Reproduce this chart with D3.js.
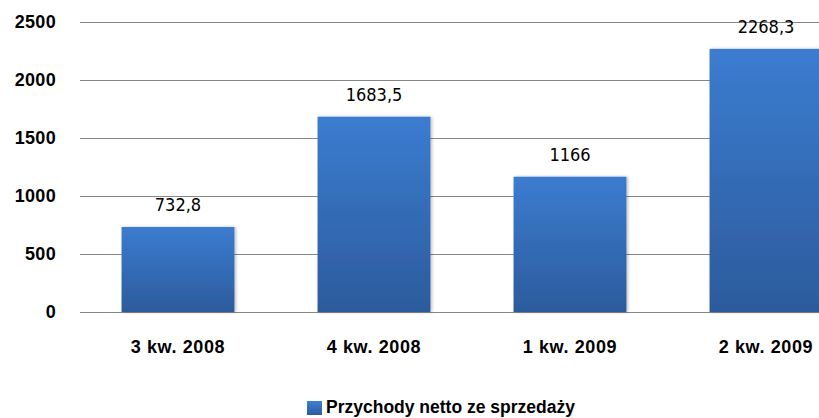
<!DOCTYPE html>
<html>
<head>
<meta charset="utf-8">
<script src="https://cdn.jsdelivr.net/npm/d3@7"></script>
<style>
  html, body { margin: 0; padding: 0; background: #fff; }
  svg { display: block; }
</style>
</head>
<body>
<svg id="chart" width="819" height="418"></svg>
<script>
// Quarterly net sales revenue
const categories = ["3 kw. 2008", "4 kw. 2008", "1 kw. 2009", "2 kw. 2009"];
const values = [732.8, 1683.5, 1166, 2268.3];
const valueLabels = ["732,8", "1683,5", "1166", "2268,3"];
const yTicks = [0, 500, 1000, 1500, 2000, 2500];
const seriesName = "Przychody netto ze sprzedaży";

const svg = d3.select("#chart");
const boldFont = "'Liberation Sans', Arial, sans-serif";
const plainFont = "'DejaVu Sans Condensed', 'Liberation Sans', sans-serif";

const x = d3.scaleBand().domain(categories).range([80, 864]).paddingInner(0.424).paddingOuter(0.212);
const y = d3.scaleLinear().domain([0, 2500]).range([312, 22]);

const defs = svg.append("defs");
const grad = defs.append("linearGradient").attr("id", "barGrad")
  .attr("x1", 0).attr("y1", 0).attr("x2", 0).attr("y2", 1);
grad.append("stop").attr("offset", "0%").attr("stop-color", "#3b7cd0");
grad.append("stop").attr("offset", "100%").attr("stop-color", "#2c5b9c");

const lg = defs.append("linearGradient").attr("id", "legGrad")
  .attr("x1", 0).attr("y1", 0).attr("x2", 0).attr("y2", 1);
lg.append("stop").attr("offset", "0%").attr("stop-color", "#3f80d4");
lg.append("stop").attr("offset", "100%").attr("stop-color", "#2c5b9c");

const shadow = defs.append("filter").attr("id", "shadow")
  .attr("x", "-10%").attr("y", "-10%").attr("width", "130%").attr("height", "130%");
shadow.append("feDropShadow").attr("dx", 1.5).attr("dy", 0).attr("stdDeviation", 1.5)
  .attr("flood-color", "#000").attr("flood-opacity", 0.25);

// Gridlines
svg.append("g").selectAll("line").data(yTicks).join("line")
  .attr("x1", 80).attr("x2", 819)
  .attr("y1", d => Math.round(y(d)) + 0.5).attr("y2", d => Math.round(y(d)) + 0.5)
  .attr("stroke", "#868686").attr("stroke-width", 1);

// Y axis labels
const yAxis = d3.axisLeft(y).tickValues(yTicks).tickSize(0).tickPadding(0).tickFormat(d3.format("d"));
const yg = svg.append("g").attr("transform", "translate(56,0)").call(yAxis);
yg.select(".domain").remove();
yg.selectAll("text").attr("font-family", boldFont).attr("font-weight", "bold")
  .attr("font-size", 18).attr("fill", "#000").attr("letter-spacing", 0.3);

// Bars
svg.append("g").selectAll("rect").data(values).join("rect")
  .attr("x", (d, i) => x(categories[i]))
  .attr("y", d => y(d))
  .attr("width", x.bandwidth())
  .attr("height", d => y(0) - y(d))
  .attr("fill", "url(#barGrad)")
  .attr("filter", "url(#shadow)");

// Value labels
svg.append("g").selectAll("text").data(values).join("text")
  .attr("x", (d, i) => x(categories[i]) + x.bandwidth() / 2)
  .attr("y", d => y(d) - 16)
  .attr("text-anchor", "middle")
  .attr("font-family", plainFont).attr("font-size", 18).attr("fill", "#000")
  .text((d, i) => valueLabels[i]);

// X axis labels
const xAxis = d3.axisBottom(x).tickSize(0).tickPadding(0);
const xg = svg.append("g").attr("transform", "translate(0,353)").call(xAxis);
xg.select(".domain").remove();
xg.selectAll("text").attr("dy", null).attr("y", 0)
  .attr("font-family", boldFont).attr("font-weight", "bold")
  .attr("font-size", 18).attr("fill", "#000").attr("letter-spacing", 0.6);

// Legend
const leg = svg.append("g");
leg.append("rect").attr("x", 307).attr("y", 401).attr("width", 15).attr("height", 14)
  .attr("fill", "url(#legGrad)");
leg.append("text").attr("x", 326).attr("y", 413)
  .attr("font-family", boldFont).attr("font-weight", "bold").attr("font-size", 17.5)
  .attr("fill", "#000").text(seriesName);
</script>
</body>
</html>
